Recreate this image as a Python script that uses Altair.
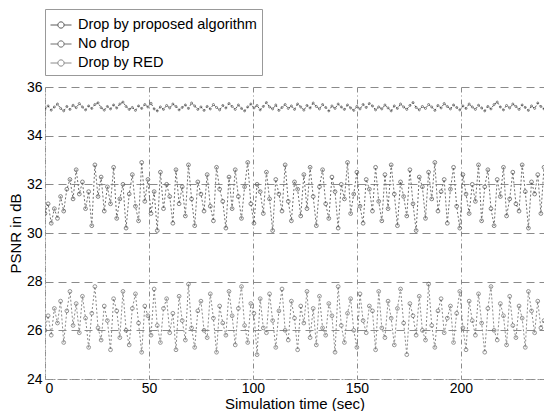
import altair as alt
import pandas as pd

series_names = ["Drop by proposed algorithm", "No drop", "Drop by RED"]
x_ticks = [0, 50, 100, 150, 200]
y_ticks = [24, 26, 28, 30, 32, 34, 36]
step_sec = 1.5

proposed = [
    35.10, 35.22, 35.05, 35.18, 35.30, 35.12, 35.02, 35.20, 35.08, 35.25,
    35.15, 35.32, 35.18, 35.06, 35.22, 35.12, 35.28, 35.35, 35.15, 35.05,
    35.20, 35.10, 35.26, 35.14, 35.30, 35.38, 35.20, 35.08, 35.16, 35.04,
    35.22, 35.12, 35.28, 35.18, 35.33, 35.10, 35.02, 35.18, 35.08, 35.24,
    35.14, 35.30, 35.20, 35.06, 35.16, 35.26, 35.12, 35.34, 35.22, 35.08,
    35.18, 35.04, 35.20, 35.10, 35.28, 35.16, 35.06, 35.24, 35.14, 35.32,
    35.20, 35.08, 35.26, 35.12, 35.02, 35.18, 35.30, 35.14, 35.24, 35.06,
    35.20, 35.36, 35.18, 35.10, 35.26, 35.04, 35.16, 35.28, 35.12, 35.22,
    35.08, 35.30, 35.18, 35.05, 35.24, 35.14, 35.34, 35.20, 35.10, 35.28,
    35.16, 35.02, 35.22, 35.12, 35.30, 35.18, 35.08, 35.26, 35.14, 35.04,
    35.20, 35.10, 35.28, 35.16, 35.32, 35.22, 35.06, 35.18, 35.10, 35.26,
    35.14, 35.02, 35.22, 35.12, 35.30, 35.18, 35.08, 35.24, 35.36, 35.16,
    35.06, 35.20, 35.12, 35.28, 35.18, 35.04, 35.24, 35.14, 35.32, 35.20,
    35.10, 35.26, 35.16, 35.06, 35.22, 35.12, 35.30, 35.18, 35.08, 35.25,
    35.14, 35.02, 35.20, 35.10, 35.28, 35.38, 35.18, 35.06, 35.24, 35.14,
    35.30, 35.20, 35.08, 35.26, 35.16, 35.04, 35.22, 35.12, 35.34, 35.20,
    35.10,
]

no_drop = [
    30.8, 31.2, 30.4, 31.0, 30.6, 31.5, 30.9, 31.8, 32.2, 31.4,
    32.6, 31.6, 32.1, 31.0, 31.7, 30.3, 32.8, 31.5, 32.3, 30.9,
    31.9, 31.2, 32.7, 30.6, 31.4, 32.0, 30.2, 31.6, 32.4, 31.1,
    30.5, 32.9, 31.3, 32.2, 30.8, 31.7, 30.1, 32.5, 31.0, 32.0,
    31.5, 30.4, 32.6, 31.2, 31.9, 30.7, 32.8, 31.4, 30.3, 32.1,
    31.6, 30.9, 32.4, 31.1, 30.5, 32.7, 31.8, 31.3, 30.2, 32.3,
    31.0, 32.6, 31.5, 30.6, 31.9, 32.9, 31.2, 30.4, 32.0, 31.7,
    30.8, 32.5, 31.4, 30.1, 32.2, 31.6, 30.9, 32.8, 31.3, 30.5,
    32.1, 31.8, 30.7, 32.4, 31.0, 32.7, 31.5, 30.3, 31.9, 32.6,
    31.2, 30.6, 32.3, 31.7, 30.2, 32.0, 31.4, 32.9, 30.8, 31.6,
    32.5, 31.1, 30.4, 32.2, 31.8, 30.9, 32.7, 31.3, 30.5, 32.4,
    31.0, 32.8, 31.6, 30.3, 32.1, 31.5, 30.7, 32.6, 31.2, 30.1,
    32.3, 31.9, 30.6, 32.5, 31.4, 32.9, 30.9, 31.7, 32.2, 30.4,
    31.8, 32.7, 31.1, 30.2, 32.4, 31.6, 30.8, 32.0, 31.3, 32.8,
    30.5, 31.9, 32.6, 31.0, 30.3, 32.2, 31.5, 32.7, 30.7, 31.4,
    32.5, 31.2, 30.9, 32.8, 31.7, 30.2, 32.1, 31.6, 32.4, 30.8,
    32.7,
]

red = [
    26.0, 26.6, 25.8, 26.9, 26.3, 27.2, 25.5, 26.8, 27.6, 26.2,
    27.1, 25.9, 27.4, 26.5, 25.3, 26.7, 27.8, 26.1, 25.6, 27.0,
    26.4, 25.2, 27.3, 26.8, 25.7, 27.6, 26.0, 25.4, 26.9, 27.5,
    26.3, 25.1, 27.0, 26.6, 25.8, 27.7, 26.2, 25.5, 26.9, 27.3,
    25.9, 26.7, 25.2, 27.4, 26.4, 25.6, 27.9, 26.1, 25.3, 26.8,
    27.2, 26.0, 25.7, 27.5, 26.5, 25.1, 27.0, 26.3, 25.8, 27.6,
    26.6, 25.4, 26.9, 27.8, 26.2, 25.5, 27.1, 26.7, 25.0, 27.3,
    26.1, 25.9, 27.5, 26.4, 25.3, 26.8, 27.7, 26.0, 25.6, 27.2,
    26.5, 25.2, 27.0, 26.3, 27.6, 25.7, 26.9, 25.4, 27.4, 26.1,
    25.8, 27.1, 26.6, 25.1, 27.8, 26.2, 25.5, 26.7, 27.3, 26.0,
    25.3, 27.5, 26.4, 25.9, 27.0, 26.8, 25.2, 27.6, 26.1, 25.7,
    27.2, 26.5, 25.4, 26.9, 27.7, 26.3, 25.0, 27.1, 26.6, 25.8,
    27.4, 26.0, 25.6, 27.9, 26.2, 25.3, 26.8, 27.3, 25.9, 26.5,
    27.0, 25.5, 26.7, 27.6, 26.1, 25.2, 27.2, 26.4, 25.8, 27.5,
    26.3, 25.1, 26.9, 27.8, 26.0, 25.6, 27.1, 26.6, 25.4, 27.4,
    26.2, 25.7, 27.0, 26.5, 25.3, 27.6, 26.8, 25.9, 27.2, 26.1,
    26.4,
]

rows = []
for name, vals in zip(series_names, [proposed, no_drop, red]):
    for i, v in enumerate(vals):
        rows.append({"t": i * step_sec, "psnr": v, "series": name})
df = pd.DataFrame(rows)

FONT = "Liberation Sans"
line_colors = ["#5a5a5a", "#6e6e6e", "#8a8a8a"]
point_colors = ["#444444", "#4e4e4e", "#666666"]
line_scale = alt.Scale(domain=series_names, range=line_colors)
point_scale = alt.Scale(domain=series_names, range=point_colors)

legend_symbol = ("M-1,0H-0.3 M0.3,0H1 "
                 "M-0.3,0A0.3,0.3 0 1,0 0.3,0A0.3,0.3 0 1,0 -0.3,0")

x_enc = alt.X("t:Q", scale=alt.Scale(domain=[0, 240], nice=False, zero=False),
              axis=alt.Axis(values=x_ticks, title="Simulation time (sec)",
                            labelPadding=2, titlePadding=1, gridDash=[5, 3, 1, 3]))
y_enc = alt.Y("psnr:Q", scale=alt.Scale(domain=[24, 36], nice=False, zero=False),
              axis=alt.Axis(values=y_ticks, title="PSNR in dB",
                            labelPadding=3, titlePadding=3, gridDash=[8, 5]))

lines = alt.Chart(df).mark_line(strokeDash=[2, 2], strokeWidth=1, clip=True).encode(
    x=x_enc,
    y=y_enc,
    color=alt.Color("series:N", sort=series_names, scale=line_scale,
                    legend=alt.Legend(orient="none", legendX=0, legendY=-78,
                                      title=None, symbolType=legend_symbol,
                                      symbolSize=441, symbolStrokeWidth=1,
                                      symbolFillColor="transparent",
                                      labelFont=FONT, labelFontSize=14.5,
                                      labelColor="black", labelOffset=6,
                                      labelLimit=0,
                                      padding=5, rowPadding=1,
                                      strokeColor="#999",
                                      fillColor="white")),
)

pts_small = alt.Chart(df).transform_filter(
    alt.datum.series == series_names[0]
).mark_point(filled=False, strokeWidth=1, size=4, clip=True).encode(
    x=x_enc, y=y_enc,
    color=alt.Color("series:N", sort=series_names, scale=point_scale, legend=None),
)

pts_big = alt.Chart(df).transform_filter(
    alt.datum.series != series_names[0]
).mark_point(filled=False, strokeWidth=1, size=14, clip=True).encode(
    x=x_enc, y=y_enc,
    color=alt.Color("series:N", sort=series_names, scale=point_scale, legend=None),
)

chart = alt.layer(lines, pts_small, pts_big).resolve_scale(color="independent").properties(
    width=499, height=292, padding=0,
).configure_view(
    stroke=None
).configure_axis(
    labelFont=FONT, titleFont=FONT, labelFontSize=14, titleFontSize=15,
    titleFontWeight="normal", labelColor="black", titleColor="black",
    ticks=False, gridColor="#8a8a8a", gridWidth=1,
    domainColor="#999", domainDash=[2, 2],
)

chart.save("out.html", embed_options={"renderer": "svg", "actions": False})
